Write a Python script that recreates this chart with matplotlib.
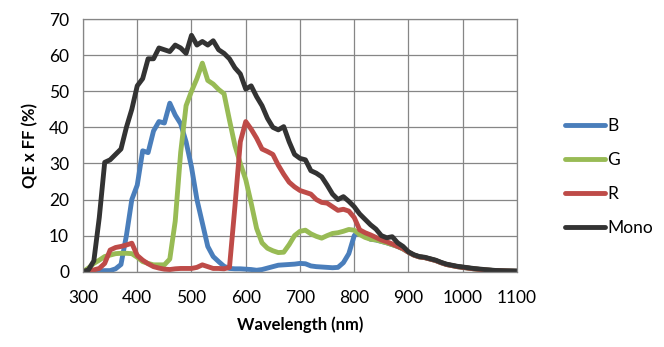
import matplotlib
matplotlib.use("Agg")
import matplotlib.pyplot as plt

plt.rcParams['font.family'] = ['Lato', 'DejaVu Sans']

# wavelength grid (nm)
wavelength = [300, 310, 320, 330, 340, 350, 360, 370, 380, 390,
              400, 410, 420, 430, 440, 450, 460, 470, 480, 490,
              500, 510, 520, 530, 540, 550, 560, 570, 580, 590,
              600, 610, 620, 630, 640, 650, 660, 670, 680, 690,
              700, 710, 720, 730, 740, 750, 760, 770, 780, 790,
              800, 810, 820, 830, 840, 850, 860, 870, 880, 890,
              900, 910, 920, 930, 940, 950, 960, 970, 980, 990,
              1000, 1020, 1040, 1060, 1080, 1100]

qe_b = [0, 0, 0, 0.2, 0.3, 0.3, 0.8, 2, 10, 20,
        24, 33.5, 33, 39, 41.6, 41.2, 46.7, 43.4, 41, 36,
        29, 20, 13.5, 7, 4.2, 2.8, 1.5, 0.9, 0.8, 0.8,
        0.7, 0.6, 0.4, 0.6, 1, 1.4, 1.8, 1.9, 2, 2.1,
        2.3, 2.2, 1.6, 1.4, 1.3, 1.2, 1.1, 1.2, 2.5, 5,
        10, 11.5, 10, 9, 8.8, 8.4, 8, 7.5, 7, 6.3,
        5.4, 4.6, 4.1, 3.9, 3.5, 3.1, 2.5, 2, 1.7, 1.4,
        1.2, 0.8, 0.5, 0.3, 0.2, 0.1]

qe_g = [0, 1, 2.3, 3.2, 4.2, 4.6, 5, 5.1, 5.1, 5,
        4, 2.8, 2.3, 1.9, 1.9, 1.9, 3.5, 14, 33, 46,
        50, 53.5, 57.8, 53, 52, 50.5, 49.3, 42, 35, 30,
        25.5, 19, 12, 8, 6.5, 5.8, 5.3, 5.4, 7.5, 10,
        11.2, 11.5, 10.5, 9.8, 9.3, 10, 10.6, 10.8, 11.2, 11.7,
        11.5, 10.3, 9.5, 9, 8.8, 8.4, 8, 7.5, 7, 6.3,
        5.4, 4.6, 4.1, 3.9, 3.5, 3.1, 2.5, 2, 1.7, 1.4,
        1.2, 0.8, 0.5, 0.3, 0.2, 0.1]

qe_r = [0, 0.3, 0.5, 0.9, 2.3, 6, 6.7, 7, 7.4, 7.9,
        4.5, 3.2, 2.2, 1.4, 1, 0.7, 0.6, 0.8, 0.9, 0.9,
        0.9, 1.2, 1.9, 1.4, 0.9, 0.9, 0.8, 1.2, 18, 36,
        41.6, 39.5, 37, 34, 33.3, 32.5, 29.5, 27, 24.8, 23.5,
        22.5, 22, 21.5, 20, 19.2, 19, 18, 17, 17.3, 16.8,
        15, 11.6, 10.8, 10.2, 9.5, 8.8, 8.3, 7.7, 7, 6.4,
        5.4, 4.6, 4.1, 3.9, 3.5, 3.1, 2.5, 2, 1.7, 1.4,
        1.2, 0.8, 0.5, 0.3, 0.2, 0.1]

qe_mono = [0, 0.5, 3, 15, 30.3, 31, 32.5, 34, 40, 45,
           51.5, 53.5, 59, 59, 62, 61.5, 61, 62.8, 62, 60.5,
           65.5, 62.8, 63.8, 62.8, 64, 61.5, 60.5, 59, 56.5, 54.8,
           50.6, 51.5, 48.5, 46, 42.5, 40, 39.3, 40.2, 36, 32.5,
           31.4, 31, 28, 27.3, 26.3, 24, 21.5, 20, 20.8, 19.5,
           18, 16, 14.5, 13, 11.8, 10, 9.4, 9.7, 8, 7,
           5.5, 4.7, 4.2, 4, 3.6, 3.2, 2.6, 2.1, 1.8, 1.5,
           1.3, 0.9, 0.6, 0.35, 0.25, 0.2]

labels = ['B', 'G', 'R', 'Mono']
colors = ['#4a7ebb', '#98bb55', '#be4b48', '#333333']

fig = plt.figure(figsize=(6.64, 3.47), dpi=100)
ax = fig.add_axes([0.125, 0.217, 0.6536, 0.728])

for y, lab, c in zip([qe_b, qe_g, qe_r, qe_mono], labels, colors):
    ax.plot(wavelength, y, color=c, lw=3.5, label=lab,
            solid_capstyle='round', solid_joinstyle='round')

ax.set_xlim(300, 1100)
ax.set_ylim(0, 70)
ax.set_xticks(range(300, 1101, 100))
ax.set_yticks(range(0, 71, 10))
ax.grid(True, color='#868686', lw=0.9)
ax.set_axisbelow(True)
for s in ax.spines.values():
    s.set_color('#868686')
    s.set_linewidth(0.9)
ax.tick_params(length=0, labelsize=12.5)
ax.tick_params(axis='x', pad=13)
ax.tick_params(axis='y', pad=10)

ax.set_xlabel('Wavelength (nm)', fontsize=12, fontweight='bold', labelpad=8)
ax.set_ylabel('QE x FF (%)', fontsize=12, fontweight='bold', labelpad=8)

fig.legend(loc='center left', bbox_to_anchor=(0.828, 0.49), frameon=False,
           fontsize=12.5, handlelength=2.3, handletextpad=0.1, labelspacing=1.05)

fig.savefig('out.png', dpi=100)
